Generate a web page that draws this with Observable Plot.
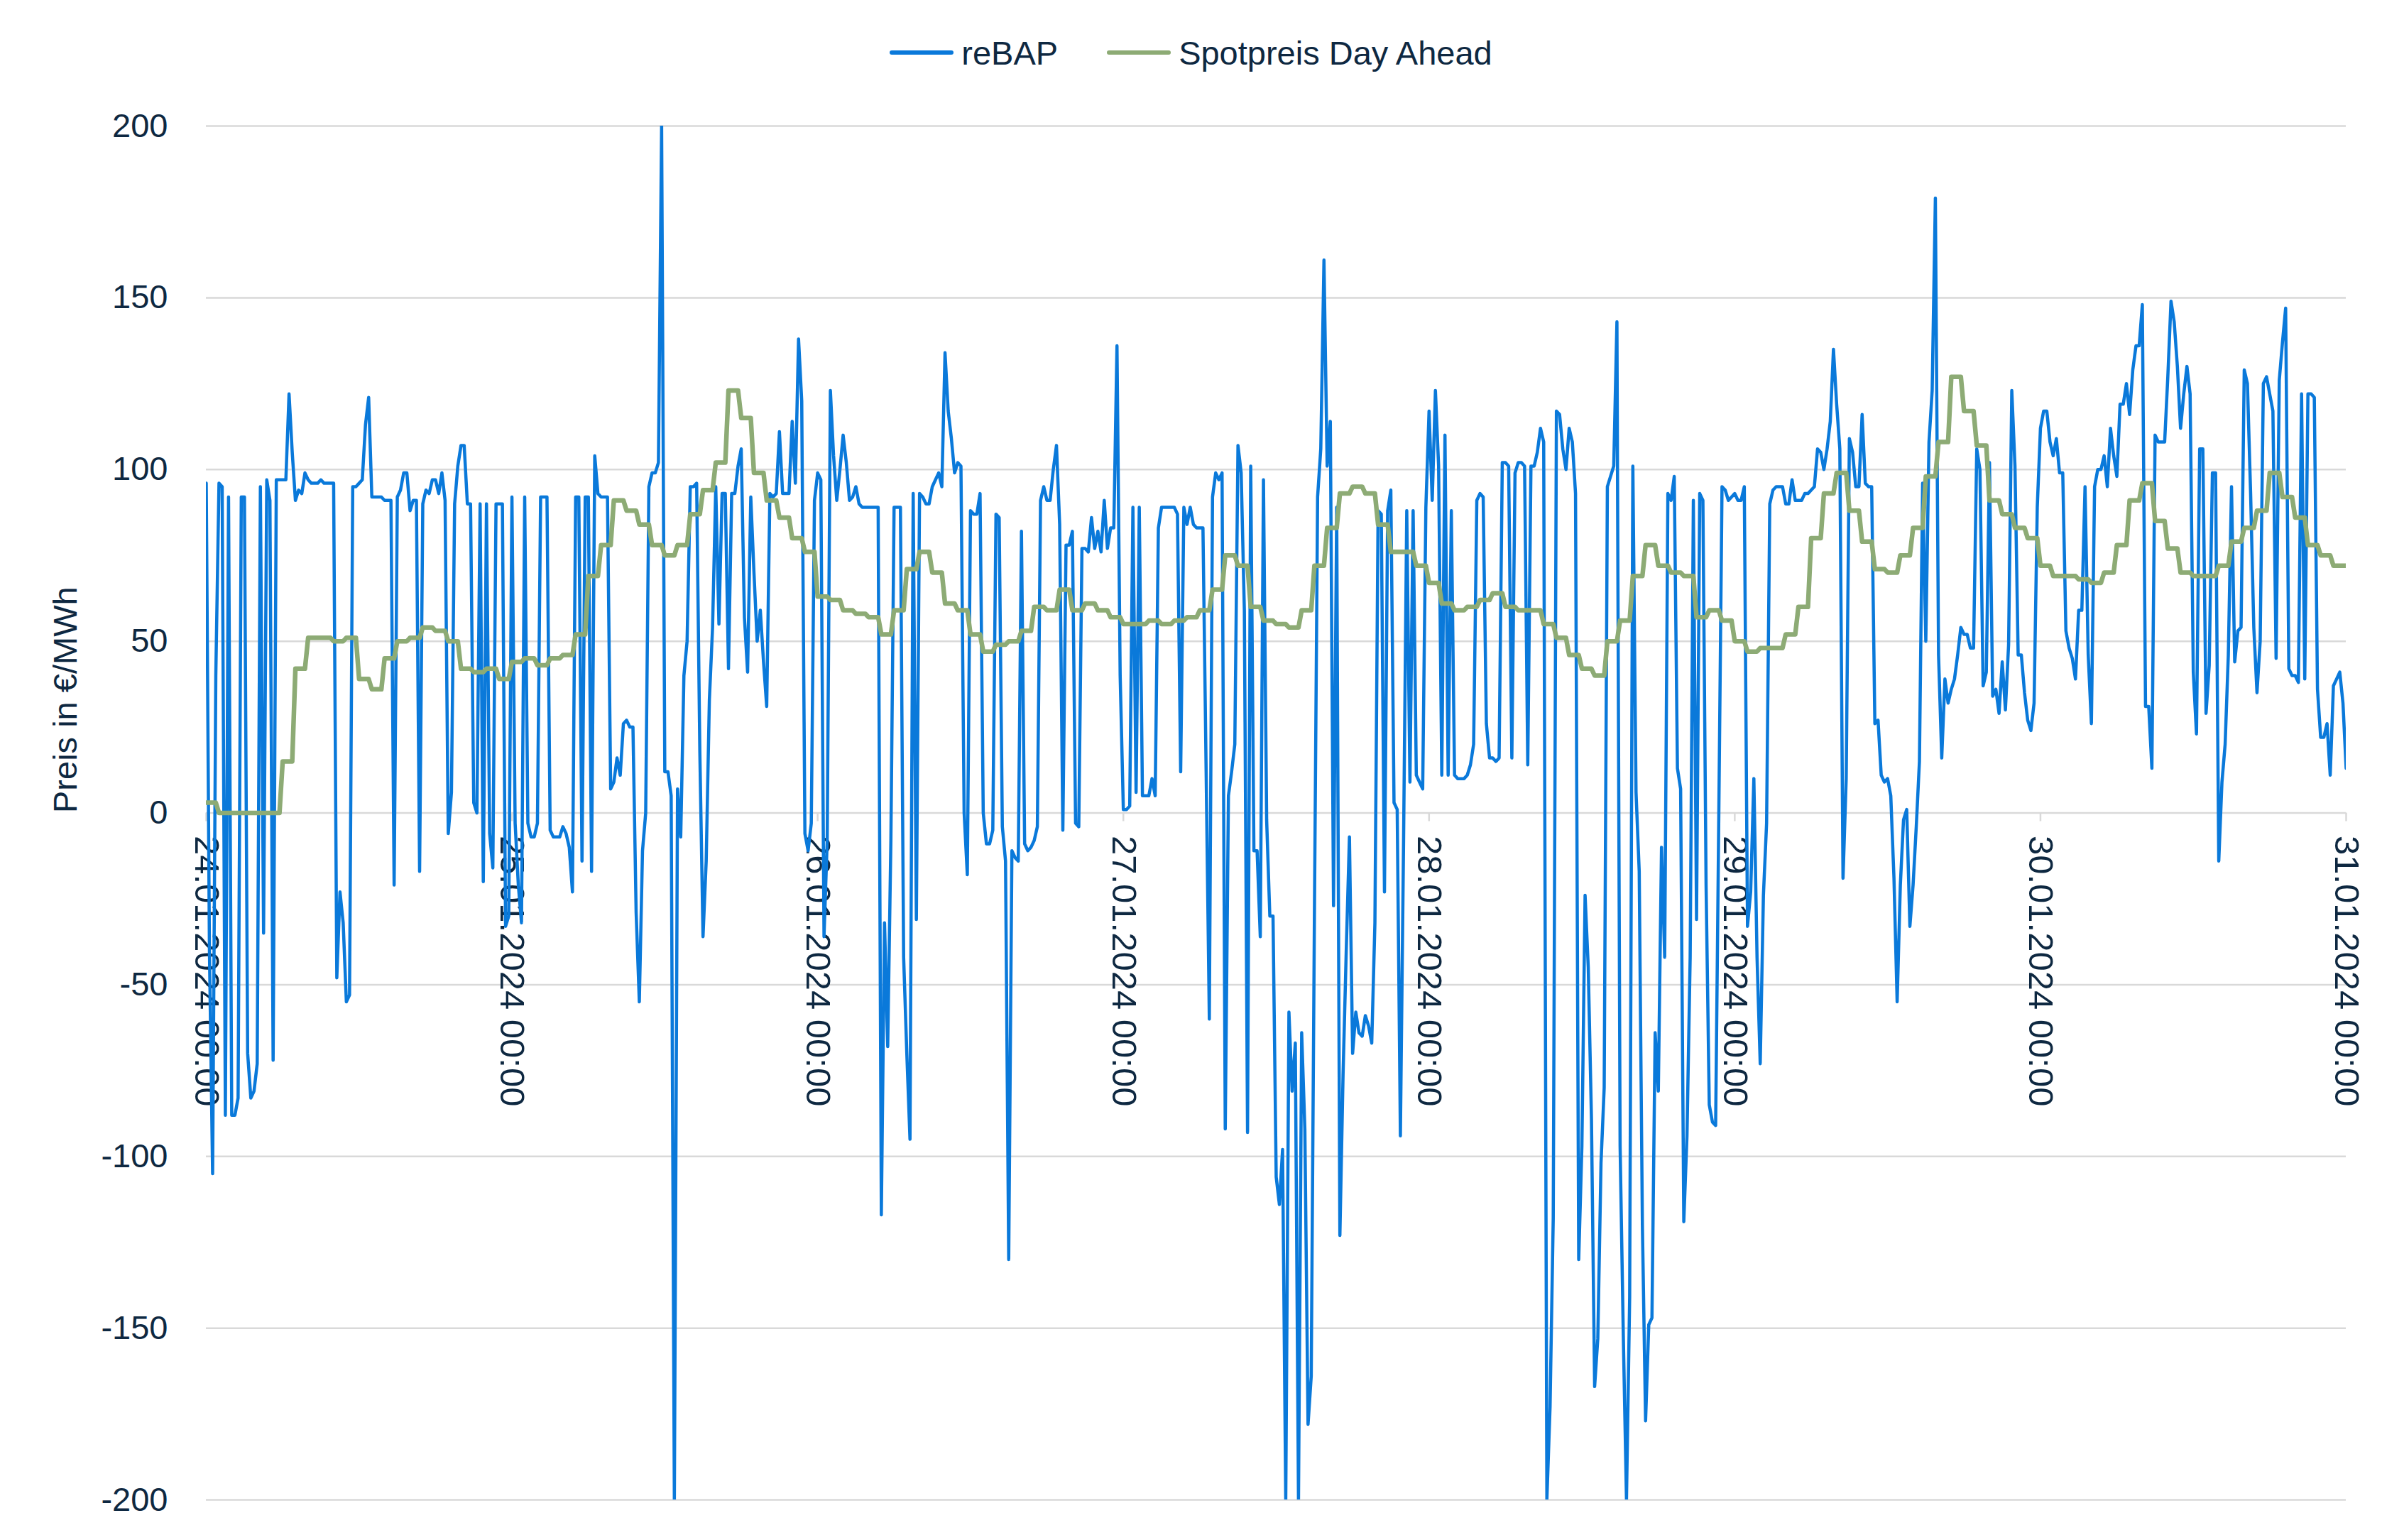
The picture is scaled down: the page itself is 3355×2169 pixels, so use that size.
<!DOCTYPE html>
<html>
<head>
<meta charset="utf-8">
<script src="https://cdn.jsdelivr.net/npm/d3@7"></script>
<script src="https://cdn.jsdelivr.net/npm/@observablehq/plot@0.6"></script>
<style>
html, body { margin: 0; padding: 0; background: #ffffff; }
body { width: 3355px; height: 2169px; overflow: hidden; font-family: "Liberation Sans", Arial, sans-serif; color: #0E2841; }
#legend { height: 148px; display: flex; justify-content: center; align-items: center; font-size: 47px; }
#legend .item { display: flex; align-items: center; }
#legend .item + .item { margin-left: 69px; }
#legend .sw { width: 90px; height: 6px; border-radius: 3px; margin-right: 11px; }
</style>
</head>
<body>
<div id="legend"></div>
<div id="chart"></div>
<script>
// ---- data ----
const startDate = "2024-01-24T00:00:00Z";
const dayLabels = ["24.01.2024 00:00", "25.01.2024 00:00", "26.01.2024 00:00", "27.01.2024 00:00",
                   "28.01.2024 00:00", "29.01.2024 00:00", "30.01.2024 00:00", "31.01.2024 00:00"];
const yTicks = [-200, -150, -100, -50, 0, 50, 100, 150, 200];
const seriesNames = ["reBAP", "Spotpreis Day Ahead"];
const seriesColors = ["#0A79DA", "#8DAB75"];
const yTitle = "Preis in €/MWh";

// reBAP, quarter-hourly values (€/MWh), one array per day
const reBAP_24 = [96,-40,-105,40,96,95,-88,92,-88,-88,
  -83,92,92,-70,-83,-81,-73,95,-35,97,
  91,-72,97,97,97,97,122,105,91,94,
  93,99,97,96,96,96,97,96,96,96,
  96,-48,-23,-32,-55,-53,95,95,96,97,
  113,121,92,92,92,92,91,91,91,-21,
  92,94,99,99,88,91,91,-17,90,94,
  93,97,97,93,99,91,-6,6,90,101,
  107,107,90,90,3,0,90,-20,90,-6,
  -16,90,90,90,-33,-30];
const reBAP_25 = [92,-3,-21,-32,92,-3,-7,-7,-3,92,
  92,92,-5,-7,-7,-7,-4,-6,-10,-23,
  92,92,-14,92,92,-17,104,93,92,92,
  92,7,9,16,11,26,27,25,25,-29,
  -55,-11,0,95,99,99,102,200,12,12,
  5,-200,7,-7,40,50,95,95,96,18,
  -36,-14,33,54,95,55,93,93,42,93,
  93,101,106,57,41,92,70,50,59,44,
  31,93,92,93,111,93,93,93,114,96,
  138,120,-6,-11,-3,91];
const reBAP_26 = [99,97,-36,-8,123,104,91,100,110,102,
  91,92,95,90,89,89,89,89,89,89,
  -117,-32,-68,-8,89,89,89,-42,-70,-95,
  93,-31,93,92,90,90,95,97,99,95,
  134,117,109,99,102,101,0,-18,88,87,
  87,93,0,-9,-9,-5,87,86,-4,-14,
  -130,-11,-13,-14,82,-9,-11,-10,-8,-4,
  91,95,91,91,100,107,84,-5,78,78,
  82,-3,-4,77,77,76,86,77,82,76,
  91,77,83,83,136,40];
const reBAP_27 = [1,1,2,89,6,89,5,5,5,10,
  5,83,89,89,89,89,89,87,12,89,
  84,89,84,83,83,83,12,-60,92,99,
  97,99,-92,5,12,20,107,99,59,-93,
  101,-11,-11,-36,97,-2,-30,-30,-106,-114,
  -98,-200,-58,-81,-67,-200,-64,-92,-178,-164,
  -30,92,106,161,101,114,-27,89,-123,-76,
  -40,-7,-70,-58,-64,-65,-59,-62,-67,-32,
  88,87,-23,88,94,3,1,-94,-8,88,
  9,88,11,9,7,89];
const reBAP_28 = [117,91,123,101,11,110,11,88,11,10,
  10,10,11,14,20,91,93,92,26,16,
  16,15,16,102,102,101,16,99,102,102,
  101,14,101,101,105,112,108,-200,-173,-118,
  117,116,106,100,112,108,93,-130,-97,-24,
  -45,-89,-167,-153,-102,-80,95,98,101,143,
  -97,-152,-200,-141,101,6,-17,-120,-177,-149,
  -147,-64,-81,-10,-42,93,91,98,13,7,
  -119,-94,-42,91,-31,93,91,-21,-85,-90,
  -91,0,95,94,91,92];
const reBAP_29 = [93,91,91,95,-33,-23,10,-42,-73,-24,
  -3,90,94,95,95,95,90,90,97,91,
  91,91,93,93,94,95,106,105,100,106,
  114,135,119,106,-19,10,109,105,95,95,
  116,96,95,95,26,27,11,9,10,5,
  -19,-55,-21,-2,1,-33,-21,-4,15,96,
  50,108,123,179,46,16,39,32,36,39,
  46,54,52,52,48,48,106,100,37,41,
  102,34,36,29,44,30,49,123,101,46,
  46,35,27,24,32,89];
const reBAP_30 = [112,117,117,108,104,109,99,99,53,48,
  45,39,59,59,95,46,26,95,100,100,
  104,95,112,104,98,119,119,125,116,129,
  136,136,148,31,31,13,110,108,108,108,
  127,149,143,130,112,122,130,122,41,23,
  106,106,29,43,99,99,-14,9,20,46,
  95,44,53,54,129,125,93,54,35,50,
  125,127,122,117,45,126,137,147,42,40,
  40,38,122,39,122,122,121,36,22,22,
  26,11,37,39,41,32];
const reBAP_31 = [13];

// Spotpreis Day Ahead, hourly values (€/MWh)
const spotHourly = [3,0,0,0,0,0,15,42,51,51,
  50,51,39,36,45,50,51,54,53,50,
  42,41,42,39,44,45,43,45,46,52,
  69,78,91,88,84,78,75,78,87,94,
  102,123,115,99,91,86,80,76,63,62,
  59,58,57,52,59,71,76,70,61,59,
  52,47,49,50,53,60,59,65,59,61,
  59,57,55,55,56,55,56,57,59,65,
  75,72,60,56,55,54,59,72,83,93,
  95,93,84,76,76,72,67,61,59,60,
  62,64,60,59,59,55,51,46,42,40,
  50,56,69,78,72,70,69,57,59,56,
  50,47,48,48,52,60,80,93,99,88,
  79,71,70,75,83,98,108,127,117,107,
  91,87,83,80,72,69,69,68,67,70,
  78,91,96,85,77,70,69,69,72,79,
  83,88,99,92,86,78,75,72];

// ---- build tables ----
const t0 = Date.parse(startDate);
const QUARTER = 15 * 60 * 1000;
const DAY = 24 * 60 * 60 * 1000;
const reBAP = [].concat(reBAP_24, reBAP_25, reBAP_26, reBAP_27, reBAP_28, reBAP_29, reBAP_30, reBAP_31);
const reBAPRows = reBAP.map((v, i) => ({t: new Date(t0 + i * QUARTER), v}));
const spotRows = reBAP.map((_, i) => ({
  t: new Date(t0 + i * QUARTER),
  v: spotHourly[Math.min(Math.floor(i / 4), spotHourly.length - 1)]
}));
const days = dayLabels.map((label, i) => ({t: new Date(t0 + i * DAY), label}));

// ---- legend ----
const legend = document.getElementById("legend");
seriesNames.forEach((name, i) => {
  const item = document.createElement("div");
  item.className = "item";
  const sw = document.createElement("div");
  sw.className = "sw";
  sw.style.background = seriesColors[i];
  const lab = document.createElement("span");
  lab.textContent = name;
  item.appendChild(sw);
  item.appendChild(lab);
  legend.appendChild(item);
});

// ---- chart ----
const textColor = "#0E2841";
const chart = Plot.plot({
  width: 3355,
  height: 2021,
  marginTop: 29,
  marginBottom: 57,
  marginLeft: 290,
  marginRight: 51,
  style: {background: "#ffffff", color: textColor, fontFamily: "'Liberation Sans', Arial, sans-serif", overflow: "visible"},
  x: {type: "utc", domain: [days[0].t, days[days.length - 1].t], axis: null},
  y: {domain: [-200, 200], axis: null},
  marks: [
    Plot.ruleY(yTicks, {stroke: "#D9D9D9", strokeWidth: 2.5}),
    Plot.ruleX(days, {x: "t", y1: () => 0, y2: () => 0, insetBottom: -12, stroke: "#D9D9D9", strokeWidth: 2.5}),
    Plot.axisY({ticks: yTicks, tickSize: 0, tickPadding: 54, fontSize: 47, tickFormat: (d) => String(d), label: null, fill: textColor}),
    Plot.text([yTitle], {frameAnchor: "left", dx: -198, rotate: -90, fontSize: 47, fill: textColor}),
    Plot.text(days, {x: "t", y: () => 0, text: "label", rotate: 90, textAnchor: "start", dy: 32, fontSize: 49, fill: textColor}),
    Plot.line(reBAPRows, {x: "t", y: "v", stroke: seriesColors[0], strokeWidth: 4.5, strokeLinejoin: "round", clip: true}),
    Plot.line(spotRows, {x: "t", y: "v", stroke: seriesColors[1], strokeWidth: 6.5, strokeLinejoin: "round", clip: true})
  ]
});
document.getElementById("chart").appendChild(chart);
</script>
</body>
</html>
